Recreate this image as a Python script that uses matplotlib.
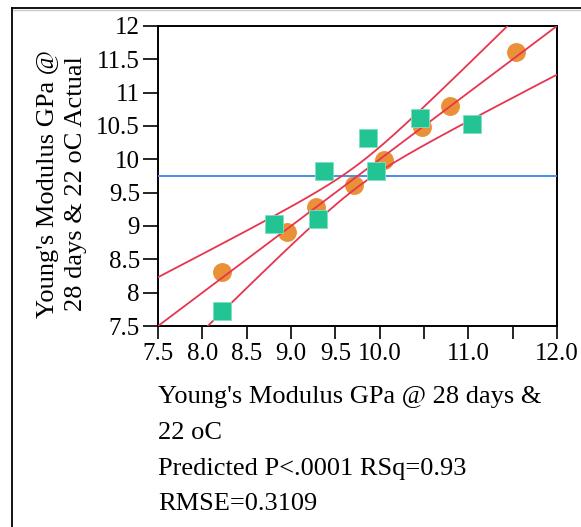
import matplotlib
matplotlib.use("Agg")
import matplotlib.pyplot as plt
from matplotlib.lines import Line2D
import numpy as np

# predicted (x) vs actual (y) values
circle_pred = [8.22, 8.96, 9.28, 9.71, 10.05, 10.48, 10.79, 11.54]
circle_act = [8.31, 8.91, 9.29, 9.61, 9.99, 10.49, 10.80, 11.61]
square_pred = [8.22, 8.81, 9.30, 9.37, 9.87, 9.96, 10.45, 11.04]
square_act = [7.73, 9.03, 9.11, 9.83, 10.32, 9.83, 10.62, 10.53]

mean_actual = 9.755
rmse = 0.3109
n_obs = 16
t_crit = 2.145
sxx = 4.45

x_ticks = [7.5, 8.0, 8.5, 9.0, 9.5, 10.0, 10.5, 11.0, 11.5, 12.0]
x_ticklabels = ["7.5", "8.0", "8.5", "9.0", "9.5", "10.0", "", "11.0", "", "12.0"]
y_ticks = [7.5, 8, 8.5, 9, 9.5, 10, 10.5, 11, 11.5, 12]
y_ticklabels = ["7.5", "8", "8.5", "9", "9.5", "10", "10.5", "11", "11.5", "12"]

plt.rcParams["font.family"] = ["Liberation Serif", "DejaVu Serif"]

fig = plt.figure(figsize=(5.81, 5.27), dpi=100)
ax = fig.add_axes([0.272, 0.3814, 0.6867, 0.5693])

# fit line and confidence curves
xs = np.linspace(7.5, 12.0, 200)
xbar = np.mean(circle_pred + square_pred)
fit = xs
hw = t_crit * rmse * np.sqrt(1.0 / n_obs + (xs - xbar) ** 2 / sxx)

ax.scatter(circle_pred, circle_act, s=185, color="#EA9137", zorder=2, linewidths=0)
ax.axhline(mean_actual, color="#4A8BEE", lw=1.4, zorder=3)
ax.plot(xs, fit, color="#E8344E", lw=1.3, zorder=3)
ax.plot(xs, fit + hw, color="#E8344E", lw=1.3, zorder=3)
ax.plot(xs, fit - hw, color="#E8344E", lw=1.3, zorder=3)
ax.scatter(square_pred, square_act, s=170, marker="s", color="#22C493",
           edgecolors="#7FE0C2", linewidths=0.6, zorder=4)

ax.set_xlim(7.5, 12.0)
ax.set_ylim(7.5, 12.0)
ax.set_xticks(x_ticks)
ax.set_xticklabels(x_ticklabels)
ax.set_yticks(y_ticks)
ax.set_yticklabels(y_ticklabels)
ax.tick_params(axis="x", direction="out", length=9, width=1.2,
               labelsize=18, color="black", pad=3)
ax.tick_params(axis="y", direction="out", length=11, width=1.2,
               labelsize=18, color="black", pad=2)
for sp in ax.spines.values():
    sp.set_linewidth(1.4)

fig.text(62 / 581, 1 - 184 / 527, "Young's Modulus GPa @\n28 days & 22 oC Actual",
         fontsize=19, rotation=90, ha="center", va="center",
         multialignment="center", linespacing=1.32)

label_lines = ["Young's Modulus GPa @ 28 days &", "22 oC",
               "Predicted P<.0001 RSq=0.93", "RMSE=0.3109"]
baselines = [403.5, 439, 474.5, 510]
for line, yb in zip(label_lines, baselines):
    fig.text(158 / 581, 1 - yb / 527, line, fontsize=19,
             ha="left", va="baseline")

# outer frame lines
fig.add_artist(Line2D([12 / 581, 1.0], [1 - 8 / 527, 1 - 8 / 527],
                      transform=fig.transFigure, color="black", lw=1.3))
fig.add_artist(Line2D([12 / 581, 1.0], [1 - 10 / 527, 1 - 10 / 527],
                      transform=fig.transFigure, color="#C8C8C8", lw=1.0))
fig.add_artist(Line2D([12 / 581, 12 / 581], [0.0, 1 - 8 / 527],
                      transform=fig.transFigure, color="black", lw=1.3))

fig.savefig("out.png", dpi=100)
